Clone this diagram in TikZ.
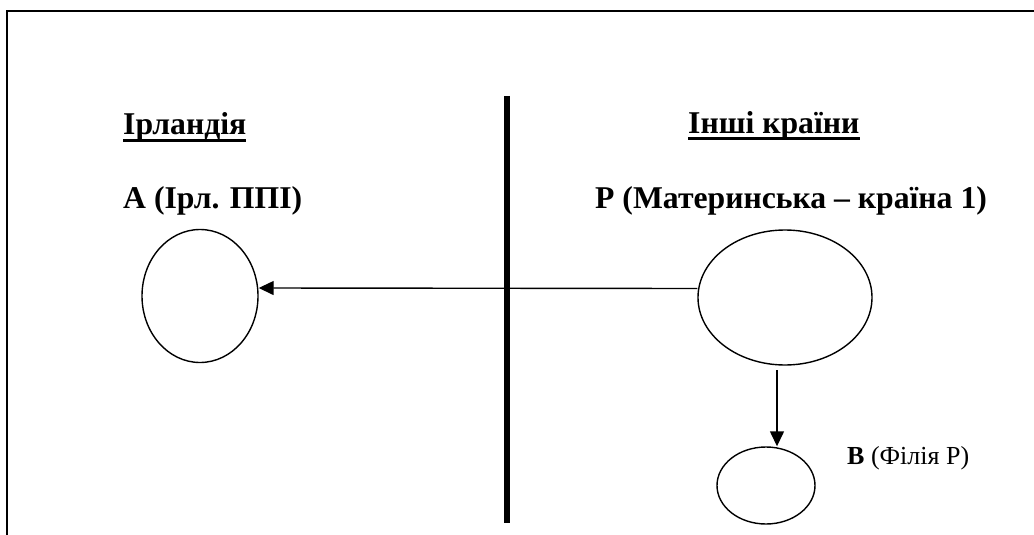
\documentclass[tikz,border=0pt]{standalone}
\usepackage{fontspec}
\setmainfont{Liberation Serif}
\usetikzlibrary{shapes.geometric,arrows.meta}
\begin{document}
\begin{tikzpicture}[x=1pt,y=-1pt,
  frame/.style={line width=2pt},
  divider/.style={line width=5.5pt},
  oval/.style={ellipse,draw,line width=1.4pt,inner sep=0pt},
  arr/.style={line width=1.4pt,-{Triangle[length=15pt,width=14pt]}},
  head/.style={anchor=base west,inner sep=0pt,font=\fontsize{31.7}{37}\selectfont\bfseries},
  small/.style={anchor=base west,inner sep=0pt,font=\fontsize{26}{30}\selectfont},
  uline/.style={line width=2.6pt}]
\useasboundingbox (0,0) rectangle (1034,535);
% frame
\coordinate (f1) at (7,535);
\coordinate (f2) at (7,11);
\coordinate (f3) at (1034,11);
\draw[frame] (f1) -- (f2) -- (f3);
% divider
\coordinate (d1) at (507,96);
\coordinate (d2) at (507,523);
\draw[divider] (d1) -- (d2);
% labels
\node[head] (t1) at (123,135) {Ірландія};
\node[head] (t2) at (123,208) {А (Ірл. ППІ)};
\node[head] (t3) at (688,133) {Інші країни};
\node[head] (t4) at (595,208) {Р (Материнська – країна 1)};
\node[small] (t5) at (847,464) {\textbf{В} (Філія Р)};
\draw[uline] ([yshift=-5.5pt]t1.base west) -- ([yshift=-5.5pt]t1.base east);
\draw[uline] ([yshift=-5.5pt]t3.base west) -- ([yshift=-5.5pt]t3.base east);
% ellipses
\node[oval,minimum width=116pt,minimum height=133pt] (A) at (200,296) {};
\node[oval,minimum width=174pt,minimum height=135pt] (P) at (785,297.5) {};
\node[oval,minimum width=98pt,minimum height=77pt] (B) at (766,485.5) {};
% arrows
\draw[arr] ([yshift=9pt]P.west) -- ([yshift=8pt]A.east);
\coordinate (s) at (777,370);
\draw[arr] (s) -- (s |- B.north);
\end{tikzpicture}
\end{document}
